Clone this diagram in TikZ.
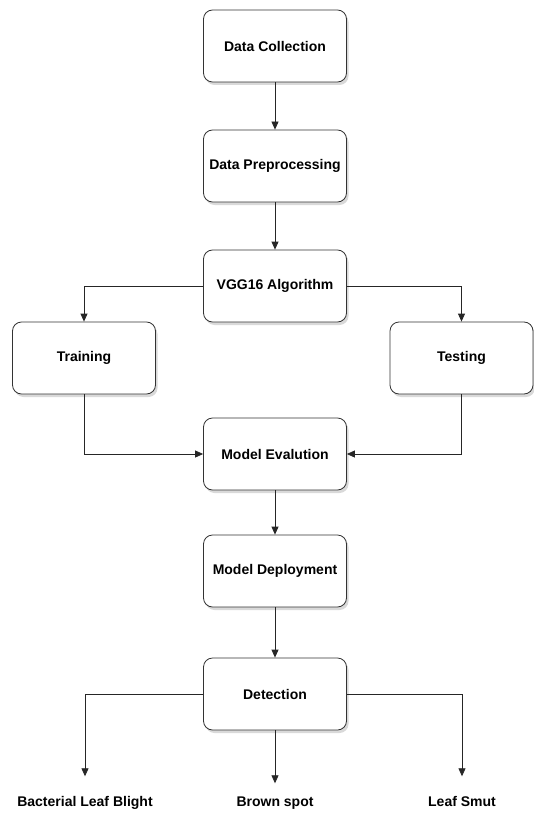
\documentclass[tikz,border=0pt]{standalone}
\usepackage{fontspec}
\setmainfont{Liberation Sans}
\usetikzlibrary{arrows.meta,shadows}

\tikzset{
    stagebox/.style={draw=black!80, thick, rounded corners=9pt, fill=white,
        minimum width=143pt, minimum height=72pt, inner sep=0pt,
        drop shadow={opacity=0.3, shadow xshift=2pt, shadow yshift=-3pt},
        font=\fontsize{14}{16}\selectfont\bfseries},
    classlabel/.style={inner sep=0pt, text height=10pt, text depth=3pt,
        font=\fontsize{14}{16}\selectfont\bfseries},
    flow/.style={draw=black!85, thick, -{Triangle[length=8pt,width=7pt]}}
}

\begin{document}
\begin{tikzpicture}[x=1pt,y=-1pt]
    \useasboundingbox (0,0) rectangle (533,813);

    % Main pipeline
    \node[stagebox] (collect) at (275,46)  {Data Collection};
    \node[stagebox] (prep)    at (275,166) {Data Preprocessing};
    \node[stagebox] (vgg)     at (275,286) {VGG16 Algorithm};
    \node[stagebox] (train)   at (84,358)  {Training};
    \node[stagebox] (test)    at (461.5,358) {Testing};
    \node[stagebox] (eval)    at (275,454) {Model Evalution};
    \node[stagebox] (deploy)  at (275,571) {Model Deployment};
    \node[stagebox] (detect)  at (275,694) {Detection};

    % Disease classes
    \node[classlabel] (blight) at (85,803)  {Bacterial Leaf Blight};
    \node[classlabel] (brown)  at (275,803) {Brown spot};
    \node[classlabel] (smut)   at (462,803) {Leaf Smut};

    \draw[flow] (collect) -- (prep);
    \draw[flow] (prep) -- (vgg);
    \draw[flow] (vgg.west) -| (train.north);
    \draw[flow] (vgg.east) -| (test.north);
    \draw[flow] (train.south) |- (eval.west);
    \draw[flow] (test.south) |- (eval.east);
    \draw[flow] (eval) -- (deploy);
    \draw[flow] (deploy) -- (detect);

    \draw[flow] (detect.west) -| ([yshift=20pt]blight.north);
    \draw[flow] (detect.south) -- ([yshift=13pt]brown.north);
    \draw[flow] (detect.east) -| ([yshift=20pt]smut.north);
\end{tikzpicture}
\end{document}
